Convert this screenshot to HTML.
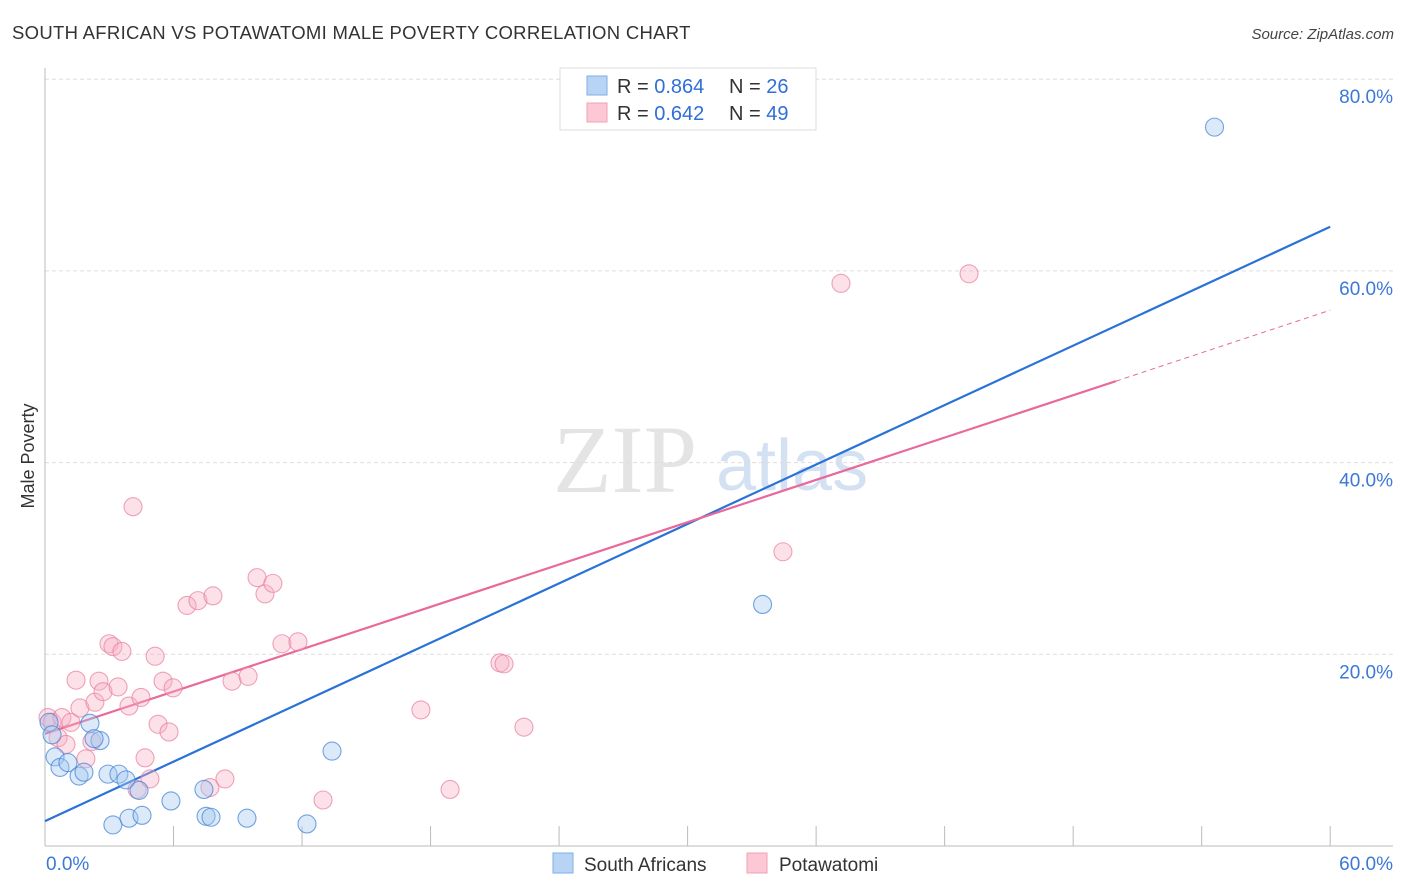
<!DOCTYPE html>
<html><head><meta charset="utf-8"><style>
body{margin:0;background:#fff;font-family:"Liberation Sans",sans-serif}
svg{display:block}
</style></head><body>
<svg id="chart" width="1406" height="892" viewBox="0 0 1406 892" xmlns="http://www.w3.org/2000/svg">
<text x="12" y="39" font-size="18.5" letter-spacing="0.3" fill="#333" font-family="Liberation Sans, sans-serif">SOUTH AFRICAN VS POTAWATOMI MALE POVERTY CORRELATION CHART</text>
<text x="1394" y="39" font-size="15" fill="#444" text-anchor="end" font-style="italic">Source: ZipAtlas.com</text>
<g>
<text x="553" y="492" font-size="96" fill="#e4e4e4" font-family="Liberation Serif, serif">ZIP</text>
<text x="716" y="490" font-size="72" fill="#d3e1f3" font-family="Liberation Sans, sans-serif">atlas</text>
</g>
<g id="grid"></g>
<g id="axes"></g>
<g id="lines"></g>
<g id="points"></g>
<text transform="translate(34,456) rotate(-90)" font-size="18" fill="#333" text-anchor="middle">Male Poverty</text>
<g>
<rect x="560" y="68" width="256" height="62" fill="#fff" stroke="#ddd"/>
<rect x="587" y="76" width="20" height="19" fill="#b8d4f5" stroke="#7eaee8"/>
<rect x="587" y="103" width="20" height="19" fill="#fcc8d6" stroke="#f2a0b6"/>
<text x="617" y="93" font-size="20" fill="#333">R = <tspan fill="#2f6fd6">0.864</tspan></text>
<text x="729" y="93" font-size="20" fill="#333">N = <tspan fill="#2f6fd6">26</tspan></text>
<text x="617" y="120" font-size="20" fill="#333">R = <tspan fill="#2f6fd6">0.642</tspan></text>
<text x="729" y="120" font-size="20" fill="#333">N = <tspan fill="#2f6fd6">49</tspan></text>
</g>
<g>
<rect x="553" y="853" width="20" height="20" fill="#b8d4f5" stroke="#7eaee8"/>
<text x="584" y="871" font-size="19" fill="#333">South Africans</text>
<rect x="747" y="853" width="20" height="20" fill="#fcc8d6" stroke="#f2a0b6"/>
<text x="779" y="871" font-size="19" fill="#333">Potawatomi</text>
</g>
</svg>
<script>
const blueX=[54.6,33.5,13.4,0.47,0.7,1.07,1.59,1.82,2.1,2.57,2.29,2.94,3.45,3.78,4.39,5.88,7.42,3.17,3.92,4.53,7.52,7.75,9.43,12.23,0.19,0.33];
const blueY=[75.0,25.2,9.9,9.3,8.2,8.7,7.3,7.7,12.8,11.0,11.2,7.5,7.5,6.9,5.8,4.7,5.9,2.2,2.9,3.2,3.1,3.0,2.9,2.3,12.9,11.6];
const pinkX=[0.14,0.33,0.61,0.79,0.98,1.21,1.45,1.63,1.91,2.19,2.33,2.52,2.71,2.99,3.17,3.41,3.59,3.92,4.11,4.30,4.48,4.67,4.90,5.14,5.28,5.51,5.79,5.98,6.63,7.14,7.70,7.84,8.40,8.73,9.48,9.90,10.27,10.64,11.06,11.81,12.98,17.55,18.91,21.24,21.43,22.36,34.45,37.16,43.14];
const pinkY=[13.4,12.9,11.3,13.4,10.6,12.9,17.3,14.4,9.1,10.9,15.0,17.2,16.1,21.1,20.8,16.6,20.3,14.6,35.4,5.9,15.5,9.2,7.0,19.8,12.7,17.2,11.9,16.5,25.1,25.6,6.1,26.1,7.0,17.2,17.7,28.0,26.3,27.4,21.1,21.3,4.8,14.2,5.9,19.1,19.0,12.4,30.7,58.7,59.7];
const blueFit=[0,2.6,60,64.6];
const pinkFit=[0,11.7,50,48.5,60,55.9];
const yTicks=[20,40,60,80];
const yTickLabels=["20.0%","40.0%","60.0%","80.0%"];
const xTicks=[0,6,12,18,24,30,36,42,48,54,60];
const NS="http://www.w3.org/2000/svg";
const sx=v=>45+v*21.42, sy=v=>846-v*9.585;
function mk(tag,attrs,parent){const e=document.createElementNS(NS,tag);for(const k in attrs)e.setAttribute(k,attrs[k]);document.getElementById(parent).appendChild(e);return e;}
yTicks.forEach((t,i)=>{
 const g=mk('line',{x1:45,x2:1393,y1:sy(t),y2:sy(t),stroke:'#ddd','stroke-dasharray':'4,3'},'grid');
 
 
 const l=mk('text',{x:1393,y:sy(t)+24,'font-size':19,fill:'#3b78d8','text-anchor':'end'},'axes');
 l.textContent=yTickLabels[i];
 
 
});
const ax=mk('line',{x1:45,x2:45,y1:68,y2:846,stroke:'#bbb'},'axes');


const bx=mk('line',{x1:45,x2:1393,y1:846,y2:846,stroke:'#bbb'},'axes');


xTicks.forEach(t=>{
 const k=mk('line',{x1:sx(t),x2:sx(t),y1:826,y2:846,stroke:'#bbb'},'axes');
 
 
});
const x0=mk('text',{x:46,y:870,'font-size':19,fill:'#3b78d8'},'axes');x0.textContent=xTicks[0].toFixed(1)+'%';


const x1=mk('text',{x:1393,y:870,'font-size':19,fill:'#3b78d8','text-anchor':'end'},'axes');x1.textContent=xTicks[xTicks.length-1].toFixed(1)+'%';


function dots(X,Y,fill,stroke,name){X.forEach((x,i)=>{
 const c=mk('circle',{cx:sx(x),cy:sy(Y[i]),r:9,fill:fill,stroke:stroke,'stroke-width':1.1},'points');
 
 
});}
dots(pinkX,pinkY,'rgba(248,175,198,0.38)','rgba(232,125,158,0.7)','potawatomi-point');
dots(blueX,blueY,'rgba(165,200,240,0.4)','rgba(70,135,215,0.75)','south-african-point');
const bl=mk('line',{x1:sx(blueFit[0]),y1:sy(blueFit[1]),x2:sx(blueFit[2]),y2:sy(blueFit[3]),stroke:'#2a72d8','stroke-width':2.2},'lines');


const pl=mk('line',{x1:sx(pinkFit[0]),y1:sy(pinkFit[1]),x2:sx(pinkFit[2]),y2:sy(pinkFit[3]),stroke:'#e8699a','stroke-width':2.2},'lines');


const pd=mk('line',{x1:sx(pinkFit[2]),y1:sy(pinkFit[3]),x2:sx(pinkFit[4]),y2:sy(pinkFit[5]),stroke:'#e8699a','stroke-width':1,'stroke-dasharray':'5,4'},'lines');


</script>
</body></html>
